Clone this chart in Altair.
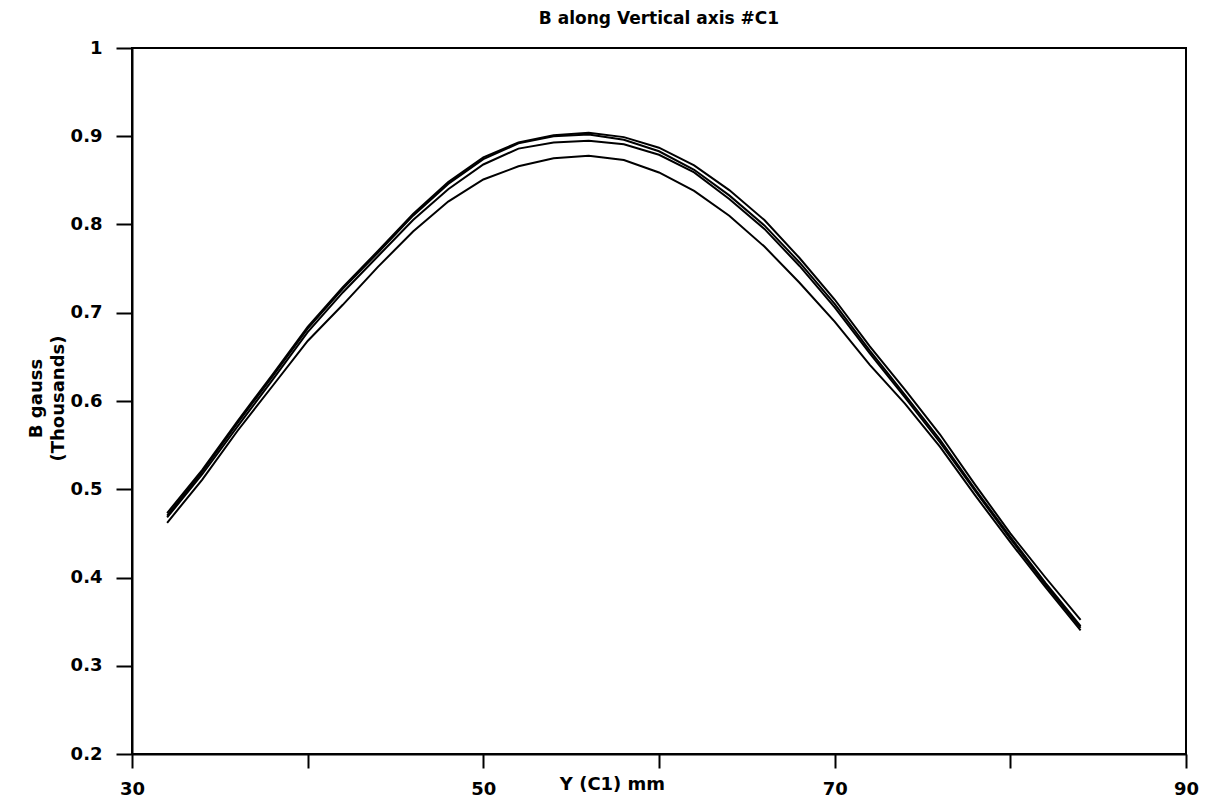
import altair as alt
import pandas as pd

# Y position (mm) along the vertical axis
y_mm = [32, 34, 36, 38, 40, 42, 44, 46, 48, 50, 52, 54, 56, 58,
        60, 62, 64, 66, 68, 70, 72, 74, 76, 78, 80, 82, 84]

# B (thousands of gauss) for the four traces
trace_a = [0.473, 0.522, 0.577, 0.630, 0.684, 0.729, 0.770, 0.812, 0.848, 0.876,
           0.893, 0.901, 0.904, 0.899, 0.887, 0.867, 0.839, 0.805, 0.762, 0.715,
           0.662, 0.613, 0.562, 0.505, 0.450, 0.400, 0.352]
trace_b = [0.470, 0.520, 0.575, 0.628, 0.682, 0.727, 0.768, 0.810, 0.846, 0.874,
           0.892, 0.900, 0.902, 0.896, 0.883, 0.862, 0.833, 0.799, 0.757, 0.710,
           0.657, 0.607, 0.556, 0.500, 0.446, 0.394, 0.345]
trace_c = [0.468, 0.517, 0.571, 0.624, 0.678, 0.723, 0.764, 0.805, 0.840, 0.868,
           0.886, 0.893, 0.895, 0.891, 0.879, 0.859, 0.829, 0.795, 0.753, 0.706,
           0.654, 0.604, 0.553, 0.498, 0.444, 0.392, 0.343]
trace_d = [0.462, 0.511, 0.566, 0.617, 0.668, 0.709, 0.752, 0.792, 0.826, 0.851,
           0.866, 0.875, 0.878, 0.873, 0.859, 0.838, 0.810, 0.775, 0.734, 0.690,
           0.641, 0.597, 0.548, 0.493, 0.440, 0.389, 0.340]

series_names = ["A", "B", "C", "D"]
series_values = [trace_a, trace_b, trace_c, trace_d]

x_ticks = [30, 40, 50, 60, 70, 80, 90]
y_ticks = [0.2, 0.3, 0.4, 0.5, 0.6, 0.7, 0.8, 0.9, 1.0]

rows = []
for name, vals in zip(series_names, series_values):
    for xv, bv in zip(y_mm, vals):
        rows.append({"y_mm": xv, "B": bv, "trace": name})
df = pd.DataFrame(rows)

FONT = "DejaVu Sans"

chart = alt.Chart(df).mark_line(color="black", strokeWidth=2).encode(
    x=alt.X("y_mm:Q",
            scale=alt.Scale(domain=[30, 90], nice=False, zero=False),
            axis=alt.Axis(values=x_ticks,
                          labelExpr="(datum.value - 30) % 20 == 0 ? datum.label : ''",
                          labelFlush=False,
                          title="Y (C1) mm",
                          titleX=480, titleY=30,
                          titleBaseline="middle", titleAlign="center",
                          tickSize=14, labelPadding=12)),
    y=alt.Y("B:Q",
            scale=alt.Scale(domain=[0.2, 1.0], nice=False, zero=False),
            axis=alt.Axis(values=y_ticks, format=".1~f",
                          title=["B gauss", "(Thousands)"],
                          titleX=-96, titleY=350, titleAngle=270,
                          titleBaseline="middle", titleAlign="center",
                          titleLineHeight=22,
                          tickSize=16, labelPadding=14)),
    detail="trace:N",
).properties(
    width=1054,
    height=706,
    autosize=alt.AutoSizeParams(type="none"),
    padding={"left": 124, "top": 40, "right": 20, "bottom": 43},
    title=alt.TitleParams(text="B along Vertical axis #C1", font=FONT,
                          fontSize=17, fontWeight="bold", color="black",
                          frame="group", offset=11, anchor="middle"),
).configure_view(
    stroke="black", strokeWidth=2
).configure_axis(
    domainColor="black", domainWidth=2, tickColor="black", tickWidth=2,
    grid=False, labelColor="black", titleColor="black",
    labelFont=FONT, titleFont=FONT, labelFontSize=18, titleFontSize=18,
    labelFontWeight="bold", titleFontWeight="bold",
)

chart.save("out.html", embed_options={"renderer": "svg", "actions": False})
